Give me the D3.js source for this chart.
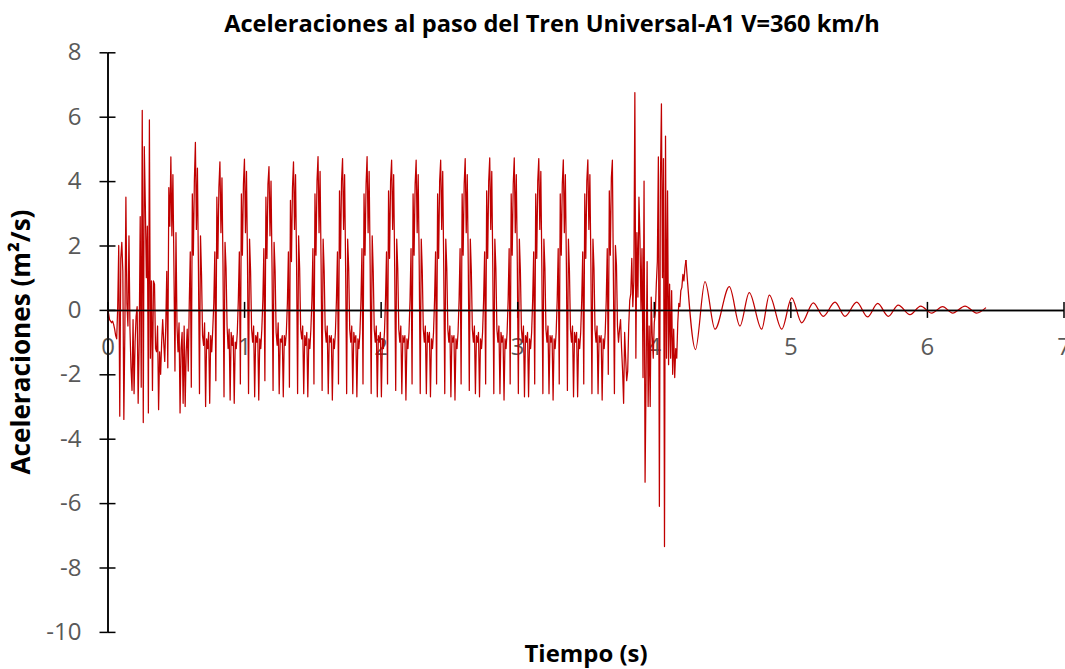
<!DOCTYPE html>
<html>
<head>
<meta charset="utf-8">
<script src="https://cdn.jsdelivr.net/npm/d3@7"></script>
<style>
body { margin: 0; background: #fff; }
svg { display: block; font-family: "Open Sans", sans-serif; }
</style>
</head>
<body>
<svg id="chart" width="1065" height="669"></svg>
<script>
// paso entre muestras: 24 muestras por cada paso de eje (~0.1796 s)
const paso = 0.1796 / 24;

// 0 - 0.46 s, entrada del tren
const tramoInicial = [0, -0.1, -0.3, -0.35, -0.4, -0.35, -0.45, -0.6, -0.8, -0.9,
  0.1, 2.0, -3.3, 1.6, 2.1, 1.2, -3.4, -0.6, 3.5, 0.2,
  -0.5, 2.3, -0.6, -1.8, -2.5, -0.3, -2.6, -1.0, -0.2, 0.1,
  -2.9, -1.0, 2.9, -2.4, 6.2, -3.5, 5.07, 3.3, 1.0, 2.6,
  -3.2, 5.9, -1.5, 0.9, -2.5, 0.9, 0.8, -1.2, -1.3, -0.5,
  -3.1, -1.3, -2.0, -1.0, -0.3, -1.0, -1.6, -0.5, 1.2, -1.8,
  3.8, 2.6];

// un ciclo por fila, empezando en cada pico
const ciclosTren = [
  [4.75, 2.3, 4.2, 1.3, -1.9, 2.4, -0.5, -1.3, -0.4, -3.2, -1.2, -0.7, -2.9, -0.5, -3.0, -1.3, -0.6, -1.9, 0.2, 1.8, -2.4, 3.6, 1.7, 4.0],
  [5.2, 2.5, 4.4, 1.2, -2.6, 2.3, 1.1, -0.8, -1.1, -0.4, -3.0, -0.9, -1.2, -0.7, -2.9, -0.8, -1.3, -0.6, 0.2, 1.8, -2.2, 3.5, 1.6, 3.8],
  [4.6, 2.4, 4.1, 1.4, -2.7, 2.1, 1.3, -0.5, -1.2, -0.6, -2.8, -0.7, -1.1, -0.8, -2.9, -1.0, -1.2, -0.7, 0.3, 1.8, -2.3, 3.6, 1.7, 3.9],
  [4.68, 2.4, 4.3, 1.4, -2.6, 2.2, 1.2, -0.6, -1.0, -0.5, -2.7, -0.8, -1.0, -0.7, -2.8, -0.9, -1.2, -0.6, 0.3, 1.9, -2.2, 3.5, 1.6, 3.9],
  [4.45, 2.3, 4.0, 1.3, -2.5, 2.1, 1.2, -0.7, -1.1, -0.4, -2.6, -0.9, -1.0, -0.8, -2.7, -0.8, -1.1, -0.7, 0.2, 1.8, -2.4, 3.4, 1.5, 3.8],
  [4.6, 2.5, 4.2, 1.4, -2.6, 2.3, 1.3, -0.6, -0.9, -0.5, -2.6, -0.8, -1.1, -0.7, -2.7, -0.9, -1.2, -0.6, 0.3, 1.9, -2.3, 3.6, 1.7, 4.0],
  [4.76, 2.4, 4.3, 1.4, -2.5, 2.2, 1.2, -0.6, -1.0, -0.5, -2.6, -0.8, -1.0, -0.8, -2.8, -0.9, -1.2, -0.7, 0.3, 1.8, -2.3, 3.7, 1.6, 4.0],
  [4.7, 2.5, 4.2, 1.3, -2.6, 2.2, 1.3, -0.6, -1.0, -0.5, -2.6, -0.7, -1.0, -0.8, -2.7, -0.9, -1.2, -0.7, 0.3, 1.9, -2.3, 3.6, 1.7, 3.9],
  [4.76, 2.4, 4.3, 1.4, -2.6, 2.3, 1.2, -0.6, -1.0, -0.5, -2.7, -0.8, -1.0, -0.7, -2.7, -0.9, -1.2, -0.7, 0.3, 1.8, -2.3, 3.7, 1.6, 4.0],
  [4.65, 2.5, 4.2, 1.3, -2.5, 2.2, 1.3, -0.6, -1.0, -0.5, -2.6, -0.8, -1.0, -0.8, -2.8, -0.9, -1.2, -0.7, 0.3, 1.9, -2.3, 3.6, 1.7, 3.9],
  [4.65, 2.4, 4.2, 1.4, -2.6, 2.2, 1.2, -0.6, -1.0, -0.5, -2.6, -0.7, -1.0, -0.7, -2.7, -0.9, -1.2, -0.7, 0.3, 1.8, -2.3, 3.6, 1.6, 4.0],
  [4.65, 2.5, 4.3, 1.3, -2.6, 2.2, 1.3, -0.6, -1.0, -0.5, -2.7, -0.8, -1.0, -0.8, -2.8, -0.9, -1.2, -0.7, 0.3, 1.9, -2.3, 3.6, 1.7, 3.9],
  [4.7, 2.4, 4.2, 1.4, -2.5, 2.2, 1.2, -0.6, -1.0, -0.5, -2.6, -0.8, -1.0, -0.7, -2.7, -0.9, -1.2, -0.7, 0.3, 1.8, -2.3, 3.7, 1.6, 4.0],
  [4.72, 2.5, 4.3, 1.3, -2.6, 2.2, 1.3, -0.6, -1.0, -0.5, -2.6, -0.7, -1.0, -0.8, -2.8, -0.9, -1.2, -0.7, 0.3, 1.9, -2.3, 3.6, 1.7, 3.9],
  [4.72, 2.4, 4.2, 1.4, -2.6, 2.2, 1.2, -0.6, -1.0, -0.5, -2.7, -0.8, -1.0, -0.7, -2.7, -0.9, -1.2, -0.7, 0.3, 1.8, -2.3, 3.6, 1.6, 4.0],
  [4.7, 2.5, 4.3, 1.3, -2.6, 2.2, 1.3, -0.6, -1.0, -0.5, -2.6, -0.8, -1.0, -0.8, -2.8, -0.9, -1.2, -0.7, 0.3, 1.9, -2.3, 3.6, 1.7, 3.9],
  [4.66, 2.4, 4.2, 1.4, -2.5, 2.2, 1.2, -0.6, -1.0, -0.5, -2.7, -0.7, -1.0, -0.7, -2.7, -0.9, -1.2, -0.7, 0.3, 1.8, -2.3, 3.6, 1.6, 4.0],
  [4.66, 2.5, 4.2, 1.3, -2.6, 2.2, 1.3, -0.6, -1.0, -0.5, -2.6, -0.8, -1.0, -0.8, -2.8, -0.9, -1.2, -0.7, 0.3, 1.9, -2.0, 3.7, 1.7, 4.1]
];

// 3.70 - 4.24 s, salida del tren
const tramoFinal = [4.65, 1.0, -2.6, 2.0, 1.4, -0.5, -1.0, -0.6, -0.3, -1.2,
  -1.9, -2.9, -0.7, -1.5, -2.2, -1.9, -0.5, 0.3, 0.5, 1.6,
  0.1, 0.9, 6.75, -1.5, 2.4, 0.4, 3.5, 2.2, 0.0, 1.9,
  -2.1, 4.0, -5.35, -2.0, 1.5, -3.0, -0.5, -3.0, 0.4, -0.8,
  -1.5, -0.4, -0.1, 0.8, 1.5, 4.75, -6.1, 4.0, 6.4, 1.0,
  4.7, -7.35, 5.4, -1.5, 3.7, -1.7, 0.8, -1.5, 0.6, -2.0,
  -0.6, -2.1, -1.2, -1.5, -0.4, 0.2, 0.1, 0.6, 0.7, 1.1,
  0.9, 1.3, 1.55];

// vibracion libre: maximos y minimos
const colaT = [4.3055, 4.375, 4.448, 4.553, 4.631, 4.699, 4.790, 4.846, 4.937, 5.010,
  5.083, 5.168, 5.241, 5.327, 5.400, 5.486, 5.565, 5.640, 5.717, 5.790,
  5.876, 5.954, 6.035, 6.115, 6.189, 6.279, 6.364, 6.432];
const colaA = [-1.23, 0.88, -0.6, 0.72, -0.5, 0.54, -0.6, 0.46, -0.6, 0.37,
  -0.4, 0.22, -0.2, 0.24, -0.2, 0.24, -0.22, 0.2, -0.2, 0.15,
  -0.15, 0.12, -0.1, 0.1, -0.1, 0.12, -0.1, 0.07];

const ticksX = [0, 1, 2, 3, 4, 5, 6, 7];
const ticksY = [-10, -8, -6, -4, -2, 0, 2, 4, 6, 8];

const svg = d3.select("#chart");
const x = d3.scaleLinear().domain([0, 7]).range([107.5, 1063.5]);
const y = d3.scaleLinear().domain([-10, 8]).range([631.9, 52.3]);

const serie = tramoInicial.concat(...ciclosTren, tramoFinal)
  .map((a, i) => ({ t: i * paso, a: a }));
const ultimo = serie[serie.length - 1];
const cola = [ultimo].concat(colaT.map((t, i) => ({ t: t, a: colaA[i] })));

// fit a label to the width it has in the picture
function ajustar(sel, ancho) {
  const w = sel.node().getComputedTextLength();
  sel.attr("font-size", parseFloat(sel.attr("font-size")) * ancho / w);
}

const etiqueta = d => String(d); // plain hyphen, no decimals

// tick labels (under the line)
const ejeY = svg.append("g").attr("transform", `translate(${x(0)},0)`)
  .call(d3.axisLeft(y).tickValues(ticksY).tickFormat(etiqueta)
    .tickSize(8).tickSizeOuter(0).tickPadding(18));
const ejeX = svg.append("g").attr("transform", `translate(0,${y(0)})`)
  .call(d3.axisBottom(x).tickValues(ticksX).tickFormat(etiqueta)
    .tickSize(8).tickSizeOuter(0).tickPadding(20));
[ejeY, ejeX].forEach(g => {
  g.selectAll("text").attr("fill", "#595959").attr("font-size", 24)
    .attr("font-family", "'Open Sans', sans-serif");
  g.selectAll("line").attr("stroke", "#000").attr("stroke-width", 1.5);
  g.select(".domain").attr("stroke", "#000").attr("stroke-width", 1.5);
});

// the series
const linea = d3.line().x(d => x(d.t)).y(d => y(d.a));
svg.append("path").datum(serie)
  .attr("d", linea)
  .attr("fill", "none").attr("stroke", "#C00000").attr("stroke-width", 1.25)
  .attr("stroke-linejoin", "round");
svg.append("path").datum(cola)
  .attr("d", linea.curve(d3.curveMonotoneX))
  .attr("fill", "none").attr("stroke", "#C00000").attr("stroke-width", 1.25);

// axis lines and the other half of the cross ticks on top
svg.append("g").attr("transform", `translate(${x(0)},0)`)
  .call(d3.axisRight(y).tickValues(ticksY).tickSize(8).tickSizeOuter(0).tickFormat(""))
  .call(g => g.selectAll("line,path").attr("stroke", "#000").attr("stroke-width", 1.5));
svg.append("g").attr("transform", `translate(0,${y(0)})`)
  .call(d3.axisTop(x).tickValues(ticksX).tickSize(8).tickSizeOuter(0).tickFormat(""))
  .call(g => g.selectAll("line,path").attr("stroke", "#000").attr("stroke-width", 1.5));

// titles
const titulo = svg.append("text").attr("x", 552).attr("y", 32)
  .attr("text-anchor", "middle").attr("font-weight", "bold").attr("font-size", 20)
  .text("Aceleraciones al paso del Tren Universal-A1 V=360 km/h");
ajustar(titulo, 656);

const tituloX = svg.append("text").attr("x", 586).attr("y", 662)
  .attr("text-anchor", "middle").attr("font-weight", "bold").attr("font-size", 20)
  .text("Tiempo (s)");
ajustar(tituloX, 123);

const tituloY = svg.append("text")
  .attr("transform", "translate(30,342) rotate(-90)")
  .attr("text-anchor", "middle").attr("font-weight", "bold").attr("font-size", 20)
  .text("Aceleraciones (m²/s)");
ajustar(tituloY, 265);
</script>
</body>
</html>
